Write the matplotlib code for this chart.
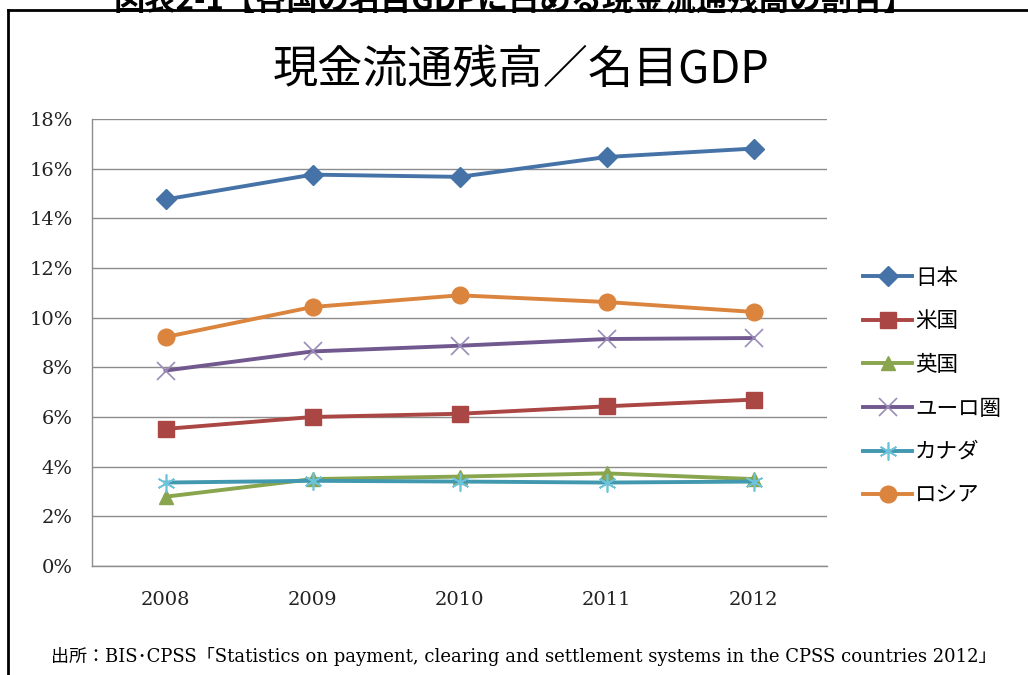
import matplotlib.pyplot as plt
from matplotlib.lines import Line2D
from matplotlib.ticker import FuncFormatter

plt.rcParams['font.family'] = ['DejaVu Serif', 'Noto Sans CJK JP', 'DejaVu Sans']

# 現金流通残高／名目GDP (%)
years = ['2008', '2009', '2010', '2011', '2012']
japan = [14.76, 15.76, 15.67, 16.47, 16.81]
usa = [5.52, 6.00, 6.13, 6.43, 6.70]
uk = [2.79, 3.50, 3.60, 3.73, 3.50]
euro = [7.87, 8.64, 8.87, 9.14, 9.18]
canada = [3.36, 3.43, 3.40, 3.36, 3.40]
russia = [9.22, 10.43, 10.90, 10.63, 10.23]
names = ['日本', '米国', '英国', 'ユーロ圏', 'カナダ', 'ロシア']

fig = plt.figure(figsize=(10.28, 6.75), dpi=100)
ax = fig.add_axes([0.0895, 0.1615, 0.715, 0.6622])

x = range(len(years))
lw = 2.8
ax.plot(x, japan, color='#4572A7', lw=lw, marker='D', ms=10, label=names[0], zorder=8)
ax.plot(x, usa, color='#AA4643', lw=lw, marker='s', ms=12, label=names[1], zorder=6)
ax.plot(x, uk, color='#89A54E', lw=lw, marker='^', ms=10, label=names[2], zorder=5)
ax.plot(x, euro, color='#71588F', lw=lw, marker='x', ms=13, mew=1.2,
        mec='#9A8CB8', label=names[3], zorder=6)
ax.plot(x, canada, color='#4198AF', lw=lw, marker=(6, 2, 0), ms=13, mew=1.2,
        mec='#6CC3DA', label=names[4], zorder=6)
ax.plot(x, russia, color='#DB843D', lw=lw, marker='o', ms=12, label=names[5], zorder=7)

ax.set_xlim(-0.5, len(years) - 0.5)
ax.set_ylim(0, 18)
ax.set_yticks(range(0, 19, 2))
ax.yaxis.set_major_formatter(FuncFormatter(lambda v, p: f'{int(v)}%'))
ax.set_xticks(list(x))
ax.set_xticklabels(years)
ax.tick_params(axis='both', length=0, labelsize=14, colors='#222222')
ax.tick_params(axis='y', pad=14)
ax.tick_params(axis='x', pad=18)
ax.grid(axis='y', color='#8c8c8c', lw=1)
ax.set_axisbelow(True)
for s in ['top', 'right']:
    ax.spines[s].set_visible(False)
for s in ['left', 'bottom']:
    ax.spines[s].set_color('#8c8c8c')
    ax.spines[s].set_linewidth(1)

leg = ax.legend(loc='center left', bbox_to_anchor=(0.821, 0.427),
                bbox_transform=fig.transFigure, frameon=False,
                prop={'family': ['Noto Sans CJK JP'], 'size': 15.5},
                handlelength=2.25, handletextpad=0.15, labelspacing=1.0)

fig.text(0.507, 0.896, '現金流通残高／名目GDP', ha='center', va='center',
         fontsize=32.5, family=['Noto Sans CJK JP'])
fig.text(0.5, 0.998, '図表2-1【各国の名目GDPに占める現金流通残高の割合】',
         ha='center', va='center', fontsize=22.5, fontweight='bold',
         family=['Noto Sans CJK JP'])
fig.text(0.05, 0.027, '出所：BIS･CPSS「Statistics on payment, clearing and settlement systems in the CPSS countries 2012」',
         ha='left', va='center', fontsize=13)

# frame around the chart
fig.add_artist(Line2D([0.008, 0.008], [0.0, 0.985], color='black', lw=2, transform=fig.transFigure))
fig.add_artist(Line2D([0.008, 1.0], [0.985, 0.985], color='black', lw=2, transform=fig.transFigure))

fig.savefig('out.png', dpi=100)
